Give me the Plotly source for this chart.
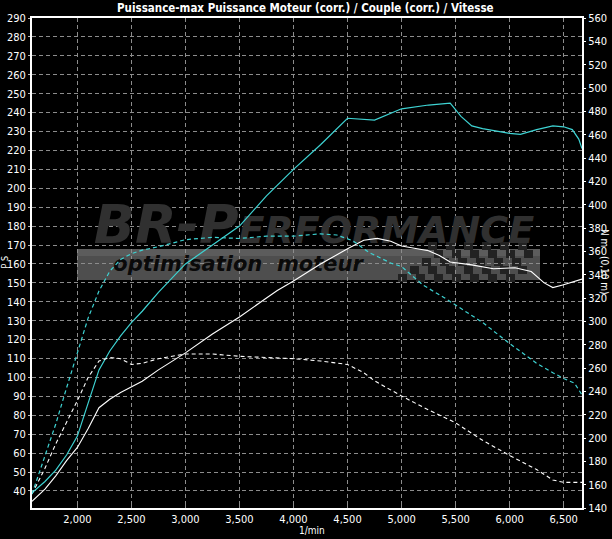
import plotly.graph_objects as go

# ---------------- data ----------------
rpm_power_tuned = [1580, 1700, 1800, 1900, 2000, 2100, 2200, 2300, 2400, 2500, 2600, 2750,
                   3000, 3250, 3500, 3750, 4000, 4250, 4500, 4750, 5000, 5250, 5450, 5550,
                   5650, 5750, 6000, 6100, 6250, 6400, 6500, 6580, 6640, 6670]
ps_tuned = [39, 45, 51, 59, 69, 86, 104, 114, 122, 129, 135, 145,
            160, 170, 180, 196, 210, 223, 237, 236, 242, 244, 245, 238,
            233, 231.5, 229, 228.5, 231, 233, 232.5, 231, 226, 221]

rpm_power_stock = [1580, 1700, 1800, 1900, 2000, 2100, 2200, 2300, 2400, 2500, 2600, 2750,
                   3000, 3250, 3500, 3750, 3850, 4000, 4250, 4500, 4650, 4775, 4900, 5000,
                   5250, 5350, 5450, 5650, 5850, 6050, 6200, 6320, 6400, 6500, 6600, 6670]
ps_stock = [34.5, 41, 48, 56, 63, 73, 84, 88.5, 92, 95, 98, 104,
            113, 123, 132, 142, 146, 151, 160, 168, 172.5, 173.5, 172, 169.5,
            167, 164.5, 161, 159.5, 157.5, 158, 156, 150, 147.5, 149, 151, 152]

rpm_torque_tuned = [1580, 1700, 1800, 1900, 2000, 2100, 2200, 2300, 2400, 2500, 2600, 2750,
                    3000, 3250, 3500, 3750, 4000, 4250, 4400, 4550, 4700, 4900, 5000, 5200,
                    5400, 5500, 5750, 6000, 6250, 6400, 6500, 6600, 6670]
nm_tuned = [152, 185, 212, 243, 272, 303, 326, 343, 353, 358, 361, 364,
            370, 372, 371, 373, 373, 375, 374, 369, 359, 350, 347, 331,
            320, 314, 299, 281, 264, 256, 251, 247, 237]

rpm_torque_stock = [1580, 1700, 1800, 1900, 2000, 2100, 2200, 2300, 2400, 2500, 2600, 2750,
                    3000, 3250, 3500, 3750, 4000, 4250, 4500, 4650, 4750, 5000, 5250, 5500,
                    5750, 6000, 6250, 6400, 6500, 6670]
nm_stock = [152, 174, 195, 213, 232, 252, 266, 269, 268, 263, 264, 268,
            272, 272, 270, 269, 268, 266, 263, 256, 249, 236, 224, 213,
            198, 185, 173, 164, 162, 162]

x_ticks = [2000, 2500, 3000, 3500, 4000, 4500, 5000, 5500, 6000, 6500]
x_range = [1580, 6670]
ps_range = [31, 290]
nm_range = [140, 560]

title_text = "Puissance-max Puissance Moteur (corr.) / Couple (corr.) / Vitesse"

# ---------------- style ----------------
NARROW = "DejaVu Sans Condensed, Liberation Sans Narrow, Arial Narrow, Liberation Sans, sans-serif"
CYAN = "#3ed3d3"
GRID = "#8c8c8c"
W, H = 612, 539
ML, MR, MT, MB = 32, 30, 18, 31
PW, PH = W - ML - MR, H - MT - MB


def px_to_paper(px, py):
    return (px - ML) / PW, (H - MB - py) / PH


def paper_to_data(fx, fy):
    return (x_range[0] + fx * (x_range[1] - x_range[0]),
            ps_range[0] + fy * (ps_range[1] - ps_range[0]))


fig = go.Figure()

# watermark logo text (drawn first so curves sit on top)
lx, ly = paper_to_data(*px_to_paper(314, 229))
fig.add_trace(go.Scatter(
    x=[lx], y=[ly], mode="text", hoverinfo="skip", showlegend=False,
    text=["BR-P<span style='font-size:38px'>ERFORMANCE</span>"],
    textposition="middle center",
    textfont=dict(family="DejaVu Sans", size=54, color="#303030", weight="bold", style="italic"),
))
ox, oy = paper_to_data(*px_to_paper(238, 266))
fig.add_trace(go.Scatter(
    x=[ox], y=[oy], mode="text", hoverinfo="skip", showlegend=False,
    text=["optimisation  moteur"],
    textposition="middle center",
    textfont=dict(family="DejaVu Sans", size=21, color="#0a0a0a", weight="bold", style="italic"),
))

# curves
fig.add_trace(go.Scatter(x=rpm_power_stock, y=ps_stock, mode="lines", name="Puissance série",
                         line=dict(color="#ffffff", width=1.1)))
fig.add_trace(go.Scatter(x=rpm_power_tuned, y=ps_tuned, mode="lines", name="Puissance",
                         line=dict(color=CYAN, width=1.2)))
fig.add_trace(go.Scatter(x=rpm_torque_stock, y=nm_stock, mode="lines", name="Couple série",
                         yaxis="y2", line=dict(color="#ffffff", width=1.1, dash="4px,3px")))
fig.add_trace(go.Scatter(x=rpm_torque_tuned, y=nm_tuned, mode="lines", name="Couple",
                         yaxis="y2", line=dict(color=CYAN, width=1.2, dash="4px,3px")))

# logo band + checkered flag (decoration)
shapes = []
x0, y0 = px_to_paper(77, 249)
x1, y1 = px_to_paper(540, 280)
shapes.append(dict(type="rect", xref="paper", yref="paper", x0=x0, y0=y1, x1=x1, y1=y0,
                   fillcolor="#4e4e4e", line=dict(width=0), layer="below"))
x0, y0 = px_to_paper(77, 249)
x1, y1 = px_to_paper(540, 256)
shapes.append(dict(type="rect", xref="paper", yref="paper", x0=x0, y0=y1, x1=x1, y1=y0,
                   fillcolor="#5c5c5c", line=dict(width=0), layer="below"))
sq = 9
for row in range(5):
    for col in range(16):
        if (row + col) % 2:
            continue
        px = 392 + col * sq - row * 3
        py = 242 + row * 8
        if col < 4 - row // 2 or px + sq > 540:
            continue
        a, b = px_to_paper(px, py)
        c, d = px_to_paper(px + sq, py + 8)
        shapes.append(dict(type="rect", xref="paper", yref="paper", x0=a, y0=d, x1=c, y1=b,
                           fillcolor="#222222", line=dict(width=0), layer="below"))

tfont = dict(family=NARROW, size=11, color="#ffffff")

fig.update_layout(
    width=W, height=H,
    margin=dict(l=ML, r=MR, t=MT, b=MB, pad=0),
    paper_bgcolor="#000000", plot_bgcolor="#000000",
    showlegend=False,
    shapes=shapes,
    xaxis=dict(range=x_range, tickvals=x_ticks, tickformat=",", showgrid=True,
               gridcolor=GRID, griddash="4px,3px", gridwidth=1, automargin=False,
               showline=True, linecolor="#ffffff", linewidth=2, mirror=True,
               ticks="inside", ticklen=3, tickcolor=GRID, tickfont=tfont, zeroline=False),
    yaxis=dict(range=ps_range, tick0=0, dtick=10, showgrid=True, automargin=False,
               gridcolor=GRID, griddash="4px,3px", gridwidth=1,
               showline=True, linecolor="#ffffff", linewidth=2, mirror=True,
               ticks="outside", ticklen=2, tickcolor="#bbbbbb", tickfont=tfont, zeroline=False),
    yaxis2=dict(range=nm_range, tick0=0, dtick=20, overlaying="y", side="right", automargin=False,
                showgrid=False, showline=True, linecolor="#ffffff", linewidth=2,
                ticks="outside", ticklen=2, tickcolor="#ffffff", tickfont=tfont, zeroline=False),
    annotations=[
        dict(text="<b>" + title_text + "</b>", xref="paper", yref="paper",
             x=px_to_paper(305, 0)[0], y=px_to_paper(0, 8)[1], showarrow=False,
             xanchor="center", yanchor="middle", font=dict(family=NARROW, size=11.5, color="#ffffff")),
        dict(text="P S", xref="paper", yref="paper", x=px_to_paper(4.5, 0)[0], y=px_to_paper(0, 262)[1],
             textangle=-90, showarrow=False, xanchor="center", yanchor="middle",
             font=dict(family=NARROW, size=9, color="#ffffff")),
        dict(text="N m   (0,10 m)", xref="paper", yref="paper", x=px_to_paper(605, 0)[0],
             y=px_to_paper(0, 262)[1], textangle=90, showarrow=False, xanchor="center",
             yanchor="middle", font=dict(family=NARROW, size=10, color="#ffffff")),
        dict(text="1/min", xref="paper", yref="paper", x=px_to_paper(312, 0)[0],
             y=px_to_paper(0, 530)[1], showarrow=False, xanchor="center", yanchor="middle",
             font=dict(family=NARROW, size=10, color="#ffffff")),
    ],
)

fig.write_html("out.html", config={"displayModeBar": False},
               post_script="document.body.style.margin='0';document.body.style.overflow='hidden';")
